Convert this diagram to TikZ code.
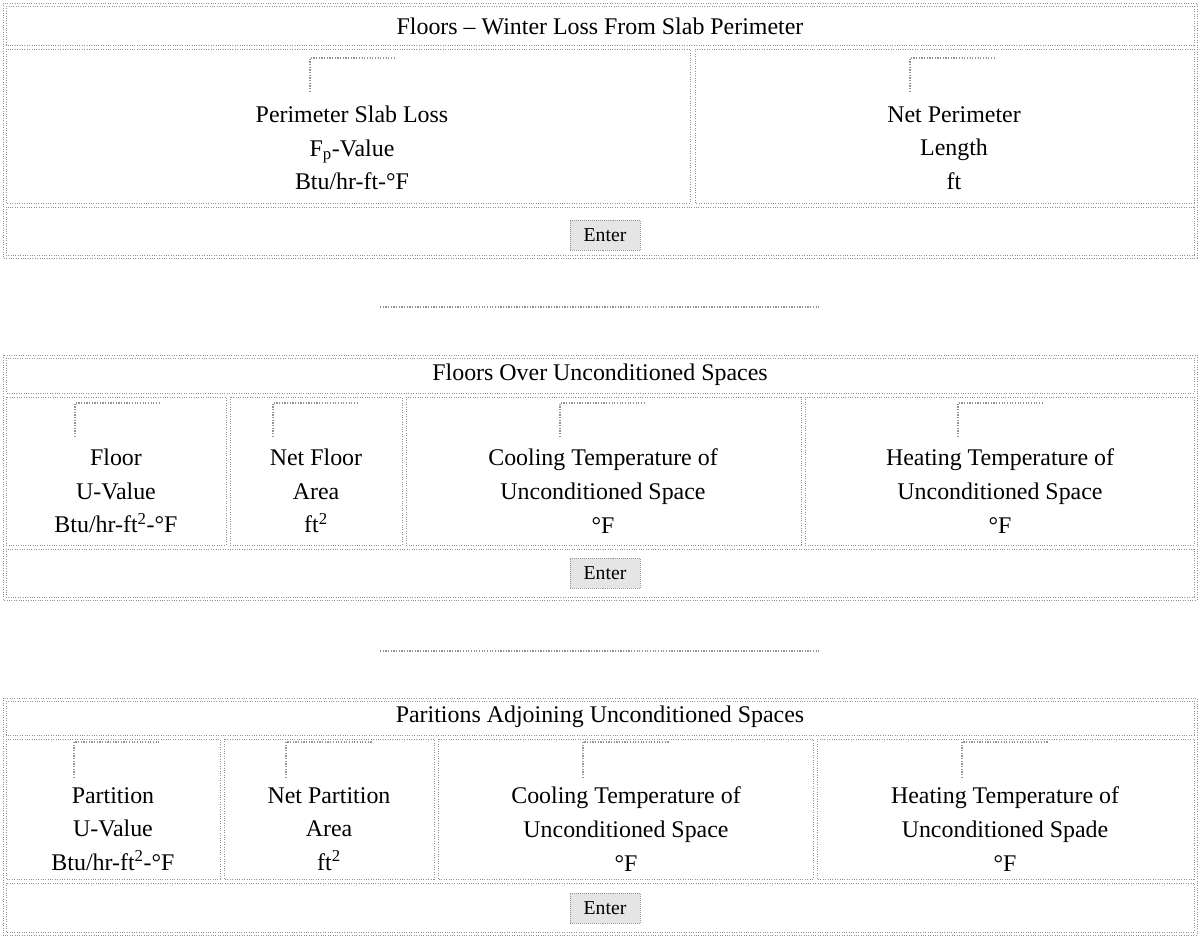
\documentclass[tikz,border=0pt]{standalone}
\usepackage{fontspec}
\setmainfont{Liberation Serif}
\tikzset{
  tabline/.style={draw=gray!85, densely dotted, line width=0.7pt},
  fieldmark/.style={draw=gray!85, densely dotted, line width=0.9pt},
  sepline/.style={draw=gray!85, densely dotted, line width=0.9pt},
  headtext/.style={font=\fontsize{17}{20}\selectfont},
  celltext/.style={align=center, font=\fontsize{17}{24}\selectfont},
  enterbtn/.style={draw=gray!80, fill=gray!20, densely dotted, inner sep=0pt,
    minimum width=1.75cm, minimum height=0.75cm, font=\fontsize{14}{16}\selectfont}
}
\begin{document}
\begin{tikzpicture}[x=0.025cm,y=-0.025cm]
\useasboundingbox (0,0) rectangle (1200,938);
% winter loss from slab perimeter
\draw[tabline] (3,3) rectangle (1197,258);
\draw[tabline] (6,6) rectangle (1194,45);
\draw[tabline] (6,49) rectangle (690,203);
\draw[tabline] (695,49) rectangle (1194,203);
\draw[tabline] (6,207) rectangle (1194,255);
\node[headtext] (slabtitle) at (600,26) {Floors -- Winter Loss From Slab Perimeter};
\draw[fieldmark] (310,92) |- (396,58);
\draw[fieldmark] (910,92) |- (996,58);
\node[celltext] (slabloss) at (352,148) {Perimeter Slab Loss\\F\textsubscript{p}-Value\\Btu/hr-ft-°F};
\node[celltext] (slablength) at (954,148) {Net Perimeter\\Length\\ft};
\node[enterbtn] (slabenter) at (605,235) {Enter};
\draw[sepline] (380,307) -- (820,307);
% floors over unconditioned spaces
\draw[tabline] (3,355) rectangle (1197,600);
\draw[tabline] (6,358) rectangle (1194,393);
\foreach \l/\r in {6/226,230/402,406/801,805/1194}
  \draw[tabline] (\l,397) rectangle (\r,545);
\draw[tabline] (6,549) rectangle (1194,597);
\node[headtext] (floortitle) at (600,375) {Floors Over Unconditioned Spaces};
\foreach \c in {118,316,603,1001}
  \draw[fieldmark] (\c-43,437) |- (\c+43,403);
\node[celltext] (flooru) at (116,491) {Floor\\U-Value\\Btu/hr-ft\textsuperscript{2}-°F};
\node[celltext] (floorarea) at (316,491) {Net Floor\\Area\\ft\textsuperscript{2}};
\node[celltext] (floorcool) at (603,491) {Cooling Temperature of\\Unconditioned Space\\°F};
\node[celltext] (floorheat) at (1000,491) {Heating Temperature of\\Unconditioned Space\\°F};
\node[enterbtn] (floorenter) at (605,573) {Enter};
\draw[sepline] (380,651) -- (820,651);
% partitions adjoining unconditioned spaces
\draw[tabline] (3,698) rectangle (1197,935);
\draw[tabline] (6,701) rectangle (1194,735);
\foreach \l/\r in {6/220,224/434,438/813,817/1194}
  \draw[tabline] (\l,739) rectangle (\r,879);
\draw[tabline] (6,883) rectangle (1194,932);
\node[headtext] (parttitle) at (600,717) {Paritions Adjoining Unconditioned Spaces};
\foreach \c in {117,329,626,1005}
  \draw[fieldmark] (\c-43,778) |- (\c+43,742);
\node[celltext] (partu) at (113,829) {Partition\\U-Value\\Btu/hr-ft\textsuperscript{2}-°F};
\node[celltext] (partarea) at (329,829) {Net Partition\\Area\\ft\textsuperscript{2}};
\node[celltext] (partcool) at (626,829) {Cooling Temperature of\\Unconditioned Space\\°F};
\node[celltext] (partheat) at (1005,829) {Heating Temperature of\\Unconditioned Spade\\°F};
\node[enterbtn] (partenter) at (605,908) {Enter};
\end{tikzpicture}
\end{document}
